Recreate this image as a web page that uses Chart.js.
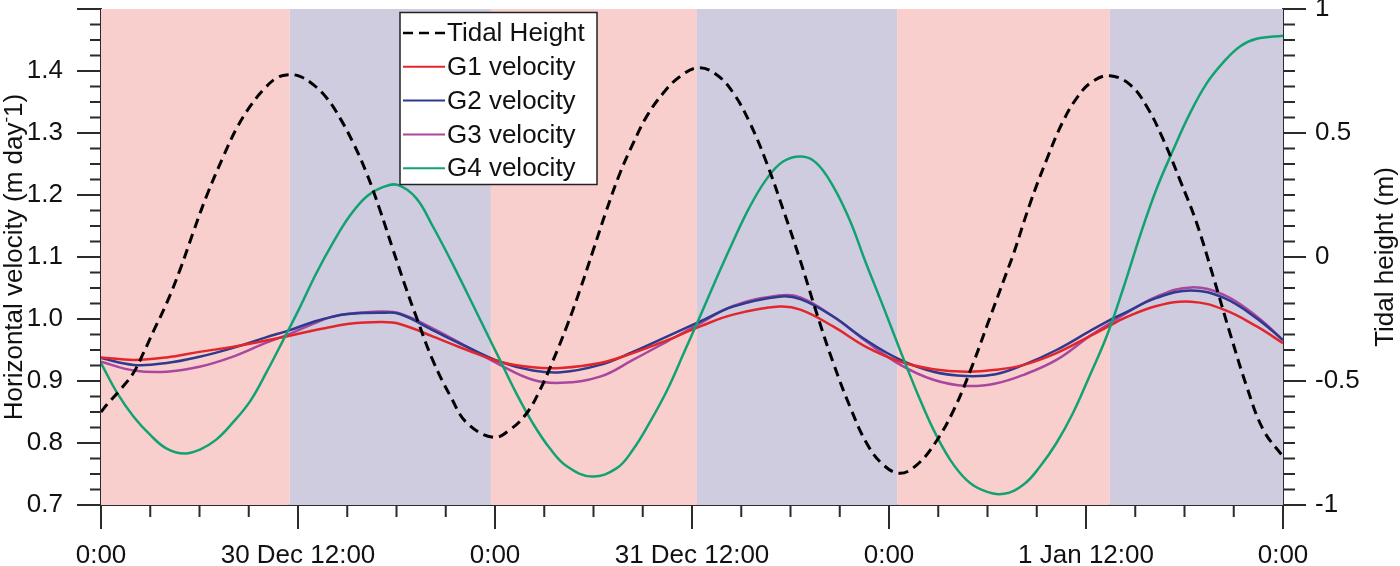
<!DOCTYPE html>
<html>
<head>
<meta charset="utf-8">
<script src="https://cdn.jsdelivr.net/npm/chart.js@4.4.1/dist/chart.umd.min.js"></script>
<style>
  html, body { margin: 0; padding: 0; background: #fff; }
  #wrap { width: 1400px; height: 566px; }
</style>
</head>
<body>
<div id="wrap"><canvas id="tideChart"></canvas></div>
<script>
//data block (hours since 30 Dec 0:00)
const xTickLabels = ['0:00', '30 Dec 12:00', '0:00', '31 Dec 12:00', '0:00', '1 Jan 12:00', '0:00'];

const tideHours = [0, 0.35, 1.16, 1.97, 2.58, 3.19, 4.0, 4.81, 5.6, 6.42, 7.45, 8.27, 9.08, 9.89, 10.7, 11.41, 12.12,
  12.93, 13.75, 14.56, 15.37, 16.18, 16.99, 17.79, 18.61, 19.2, 20.2, 21.3, 22.3, 23.9, 24.9, 25.93, 26.74, 27.55,
  28.37, 29.18, 29.99, 30.8, 31.61, 32.42, 33.24, 34.25, 35.27, 36.4, 37.5, 38.52, 39.53, 40.55, 41.56, 42.58, 43.59,
  44.61, 45.62, 46.64, 47.65, 48.67, 49.7, 50.8, 51.95, 53.05, 54.1, 55.15, 55.6, 56.6, 57.6, 58.55, 59.5, 60.4,
  61.45, 62.68, 63.7, 64.71, 65.72, 66.74, 67.75, 68.77, 69.79, 70.8, 72];
const tideHeight = [-0.625, -0.596, -0.536, -0.468, -0.388, -0.300, -0.186, -0.052, 0.096, 0.244, 0.405, 0.520, 0.607,
  0.674, 0.722, 0.735, 0.728, 0.695, 0.641, 0.560, 0.459, 0.338, 0.190, 0.029, -0.132, -0.240, -0.415, -0.563, -0.670,
  -0.727, -0.697, -0.630, -0.536, -0.415, -0.280, -0.132, 0.029, 0.190, 0.338, 0.459, 0.567, 0.661, 0.728, 0.763,
  0.735, 0.661, 0.540, 0.379, 0.190, -0.011, -0.226, -0.428, -0.603, -0.751, -0.838, -0.872, -0.838, -0.751, -0.616,
  -0.442, -0.253, -0.065, 0.016, 0.217, 0.392, 0.540, 0.647, 0.708, 0.731, 0.695, 0.607, 0.473, 0.311, 0.137, -0.079,
  -0.307, -0.522, -0.697, -0.805];

const gHours = [0, 2, 4, 6, 8, 10, 11.5, 13, 14, 15, 17, 18.2, 20.2, 22.3, 24.3, 26.3, 28, 30.4, 32.4, 34.5,
  36.5, 38.5, 41.3, 42.6, 44.6, 46.6, 48.7, 50.7, 52.7, 54.5, 56.2, 58.2, 60.2, 61.5, 62.3, 64.3, 66.4, 68.4, 70.4, 72];
const g1Velocity = [0.938, 0.934, 0.938, 0.947, 0.955, 0.965, 0.973, 0.982, 0.987, 0.992, 0.995, 0.992, 0.972, 0.950,
  0.931, 0.922, 0.921, 0.929, 0.945, 0.966, 0.988, 1.007, 1.020, 1.015, 0.988, 0.955, 0.931, 0.919, 0.915, 0.918,
  0.926, 0.945, 0.972, 0.990, 1.001, 1.021, 1.028, 1.015, 0.988, 0.961];
const g2Velocity = [0.937, 0.926, 0.929, 0.939, 0.953, 0.970, 0.982, 0.996, 1.003, 1.008, 1.010, 1.008, 0.982, 0.955,
  0.931, 0.917, 0.914, 0.926, 0.947, 0.972, 0.996, 1.020, 1.036, 1.032, 1.004, 0.966, 0.934, 0.915, 0.908, 0.911,
  0.926, 0.950, 0.980, 0.999, 1.009, 1.034, 1.046, 1.034, 1.001, 0.966];
const g3Velocity = [0.931, 0.917, 0.915, 0.923, 0.939, 0.961, 0.976, 0.993, 1.003, 1.008, 1.012, 1.009, 0.985, 0.955,
  0.926, 0.902, 0.897, 0.907, 0.934, 0.964, 0.993, 1.021, 1.038, 1.035, 1.004, 0.964, 0.926, 0.902, 0.892, 0.896,
  0.910, 0.934, 0.972, 0.994, 1.007, 1.036, 1.051, 1.039, 1.004, 0.966];

const g4Hours = [0, 1, 2, 3, 4, 5.1, 6, 7, 8, 9.1, 10.1, 11.1, 12.1, 13.1, 14.15, 15.2, 16.2, 17.2, 18.1, 19.2, 20.2,
  21.3, 22.3, 23.3, 24.3, 25.3, 26.3, 27.35, 28.4, 29.9, 31.4, 32.4, 33.4, 34.5, 35.5, 36.5, 37.5, 38.5, 39.5, 40.55,
  41.55, 42.7, 43.6, 44.6, 45.6, 46.6, 47.65, 48.67, 49.7, 50.7, 51.7, 52.7, 53.7, 55, 56.2, 57.2, 58.2, 59.2, 60.2,
  61.3, 62.3, 63.3, 64.3, 65.3, 66.3, 67.35, 68.4, 69.4, 70.4, 72];
const g4Velocity = [0.929, 0.880, 0.842, 0.813, 0.791, 0.783, 0.789, 0.805, 0.832, 0.868, 0.915, 0.966, 1.018, 1.073,
  1.124, 1.168, 1.198, 1.213, 1.216, 1.195, 1.150, 1.095, 1.042, 0.988, 0.934, 0.880, 0.832, 0.791, 0.762, 0.746,
  0.759, 0.789, 0.832, 0.886, 0.945, 1.005, 1.066, 1.125, 1.180, 1.226, 1.254, 1.262, 1.251, 1.214, 1.160, 1.090,
  1.020, 0.950, 0.882, 0.822, 0.774, 0.741, 0.724, 0.718, 0.733, 0.762, 0.800, 0.848, 0.907, 0.975, 1.052, 1.135,
  1.210, 1.272, 1.330, 1.380, 1.415, 1.440, 1.452, 1.457];

// high/low tide shading edges (hours)
const bandEdges = [0, 11.5, 23.75, 36.3, 48.5, 61.45, 72];

//style block
const fontFamily = '"Liberation Sans", Arial, sans-serif';
const bandColors = ['#f9cfcd', '#cfcce0'];
const axisColor = '#2b2b2b';

const toPoints = (xs, ys) => xs.map((x, i) => ({ x: x, y: ys[i] }));

//setup block
const tideData = {
  datasets: [
    { label: 'Tidal Height', data: toPoints(tideHours, tideHeight), yAxisID: 'y2', borderColor: '#000',
      borderWidth: 3, borderDash: [10, 6], order: 0 },
    { label: 'G1 velocity', data: toPoints(gHours, g1Velocity), yAxisID: 'y', borderColor: '#e3262c',
      borderWidth: 2.5, order: 2 },
    { label: 'G2 velocity', data: toPoints(gHours, g2Velocity), yAxisID: 'y', borderColor: '#2d3a8e',
      borderWidth: 2.5, order: 3 },
    { label: 'G3 velocity', data: toPoints(gHours, g3Velocity), yAxisID: 'y', borderColor: '#a9479f',
      borderWidth: 2.5, order: 4 },
    { label: 'G4 velocity', data: toPoints(g4Hours, g4Velocity), yAxisID: 'y', borderColor: '#12a272',
      borderWidth: 2.5, order: 1 }
  ]
};

//plugins
const tideBands = {
  id: 'tideBands',
  beforeDatasetsDraw(chart) {
    const { ctx, chartArea, scales } = chart;
    ctx.save();
    for (let i = 0; i < bandEdges.length - 1; i++) {
      const x0 = scales.x.getPixelForValue(bandEdges[i]);
      const x1 = scales.x.getPixelForValue(bandEdges[i + 1]);
      ctx.fillStyle = bandColors[i % 2];
      ctx.fillRect(x0, chartArea.top, x1 - x0, chartArea.bottom - chartArea.top);
    }
    ctx.restore();
  }
};

const axisTicks = {
  id: 'axisTicks',
  afterDraw(chart) {
    const { ctx, chartArea, scales } = chart;
    ctx.save();
    ctx.strokeStyle = axisColor;
    ctx.lineWidth = 2;
    ctx.beginPath();
    for (let h = 0; h <= 72; h += 3) {
      const px = scales.x.getPixelForValue(h);
      ctx.moveTo(px, chartArea.bottom);
      ctx.lineTo(px, chartArea.bottom + (h % 12 === 0 ? 24 : 12));
    }
    for (let i = 0; i <= 32; i++) {
      const py = scales.y.getPixelForValue(0.7 + i * 0.025);
      ctx.moveTo(chartArea.left, py);
      ctx.lineTo(chartArea.left - (i % 4 === 0 ? 24 : 11), py);
      const py2 = scales.y2.getPixelForValue(-1 + i * 0.0625);
      ctx.moveTo(chartArea.right, py2);
      ctx.lineTo(chartArea.right + (i % 8 === 0 ? 23 : 12), py2);
    }
    ctx.stroke();
    ctx.restore();
  }
};

const axisTitles = {
  id: 'axisTitles',
  afterDraw(chart) {
    const { ctx, chartArea } = chart;
    const midY = (chartArea.top + chartArea.bottom) / 2;
    ctx.save();
    ctx.fillStyle = '#111';
    ctx.textBaseline = 'middle';
    // left title with superscript
    const big = '26px ' + fontFamily, small = '17px ' + fontFamily;
    const partA = 'Horizontal velocity (m day', sup = '-', partB = '1)';
    ctx.font = big;
    const wA = ctx.measureText(partA).width, wB = ctx.measureText(partB).width;
    ctx.font = small;
    const wS = ctx.measureText(sup).width;
    const total = wA + wS + wB;
    ctx.translate(15, midY);
    ctx.rotate(-Math.PI / 2);
    ctx.textAlign = 'left';
    ctx.font = big;
    ctx.fillText(partA, -total / 2, 0);
    ctx.font = small;
    ctx.fillText(sup, -total / 2 + wA, -9);
    ctx.font = big;
    ctx.fillText(partB, -total / 2 + wA + wS, 0);
    ctx.restore();
    // right title
    ctx.save();
    ctx.fillStyle = '#111';
    ctx.textBaseline = 'middle';
    ctx.textAlign = 'center';
    ctx.font = big;
    ctx.translate(1386, midY);
    ctx.rotate(-Math.PI / 2);
    ctx.fillText('Tidal height (m)', 0, 0);
    ctx.restore();
  }
};

const legendBox = {
  id: 'legendBox',
  afterDatasetsDraw(chart) {
    const { ctx, chartArea } = chart;
    const x0 = chartArea.left + 299, y0 = chartArea.top + 3.5;
    const w = 197, h = 172, rowH = 33.8;
    ctx.save();
    ctx.fillStyle = '#fff';
    ctx.fillRect(x0, y0, w, h);
    ctx.strokeStyle = '#222';
    ctx.lineWidth = 1.5;
    ctx.strokeRect(x0, y0, w, h);
    ctx.font = '26px ' + fontFamily;
    ctx.textBaseline = 'middle';
    ctx.textAlign = 'left';
    chart.data.datasets.forEach((ds, i) => {
      const cy = y0 + 20.5 + i * rowH;
      ctx.setLineDash(ds.borderDash || []);
      ctx.strokeStyle = ds.borderColor;
      ctx.lineWidth = ds.borderDash ? 2.5 : 2;
      ctx.beginPath();
      ctx.moveTo(x0 + 3, cy);
      ctx.lineTo(x0 + 45, cy);
      ctx.stroke();
      ctx.setLineDash([]);
      ctx.fillStyle = '#111';
      ctx.fillText(ds.label, x0 + 47, cy + 1);
    });
    ctx.restore();
  }
};

// keep the plot frame where the reference has it
const noEdgePadding = (scale) => {
  scale.paddingTop = 0;
  scale.paddingBottom = 0;
  scale.paddingLeft = 0;
  scale.paddingRight = 0;
};

//options
const tideOptions = {
  responsive: true,
  maintainAspectRatio: false,
  animation: false,
  layout: { padding: { top: 9, left: 0, right: 0, bottom: 0 } },
  elements: {
    point: { radius: 0 },
    line: { tension: 0.4, fill: false }
  },
  plugins: {
    legend: { display: false },
    tooltip: { enabled: false }
  },
  scales: {
    x: {
      type: 'linear', position: 'bottom', min: 0, max: 72,
      grid: { display: false, drawTicks: false },
      border: { display: true, color: axisColor, width: 2 },
      ticks: {
        stepSize: 12, autoSkip: false, maxRotation: 0, padding: 35, color: '#111',
        font: { family: fontFamily, size: 26 },
        callback: (v) => xTickLabels[v / 12]
      },
      afterFit: (scale) => { scale.height = 61; noEdgePadding(scale); }
    },
    y: {
      type: 'linear', position: 'left', min: 0.7, max: 1.5,
      grid: { display: false, drawTicks: false },
      border: { display: true, color: axisColor, width: 2 },
      ticks: {
        stepSize: 0.1, padding: 38, color: '#111',
        font: { family: fontFamily, size: 26 },
        callback: (v) => (Math.abs(v - 1.5) < 1e-6 ? '' : v.toFixed(1))
      },
      afterFit: (scale) => { scale.width = 101; noEdgePadding(scale); }
    },
    y2: {
      type: 'linear', position: 'right', min: -1, max: 1,
      grid: { display: false, drawTicks: false },
      border: { display: true, color: axisColor, width: 2 },
      ticks: {
        stepSize: 0.5, padding: 32, color: '#111',
        font: { family: fontFamily, size: 26 },
        callback: (v) => String(v)
      },
      afterFit: (scale) => { scale.width = 117; noEdgePadding(scale); }
    }
  }
};

//config block
const tideConfig = {
  type: 'line',
  data: tideData,
  options: tideOptions,
  plugins: [tideBands, legendBox, axisTicks, axisTitles]
};

//render block
const tideChartRender = new Chart(document.getElementById('tideChart'), tideConfig);
</script>
</body>
</html>
